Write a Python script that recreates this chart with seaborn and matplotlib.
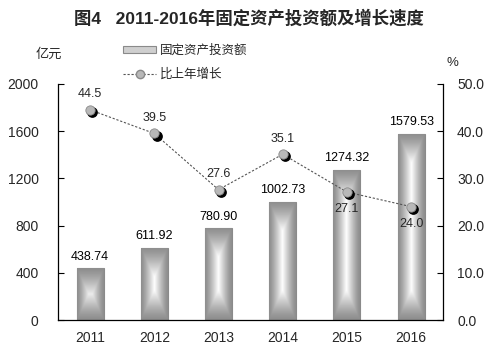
import seaborn as sns
import matplotlib.pyplot as plt
import pandas as pd
import numpy as np
from matplotlib.patches import Patch
from matplotlib.lines import Line2D
from matplotlib.transforms import offset_copy

years = ["2011", "2012", "2013", "2014", "2015", "2016"]
invest = [438.74, 611.92, 780.90, 1002.73, 1274.32, 1579.53]
growth = [44.5, 39.5, 27.6, 35.1, 27.1, 24.0]
growth_below = [False, False, False, False, True, True]

sns.set_theme(style="white")
plt.rcParams['font.family'] = ['Liberation Sans', 'Noto Sans CJK SC']
plt.rcParams['axes.unicode_minus'] = False

df = pd.DataFrame({"year": years, "invest": invest, "growth": growth})
df["pos"] = np.arange(len(years))

fig = plt.figure(figsize=(4.98, 3.54), dpi=100)
ax = fig.add_axes([0.1165, 0.096, 0.7735, 0.667])

sns.barplot(data=df, x="year", y="invest", ax=ax, width=0.42,
            color="#a0a0a0", edgecolor="#8a8a8a", linewidth=0.8, saturation=1)
ax.set_xlim(-0.5, 5.5)
ax.set_ylim(0, 2000)

# gradient fill: white in the middle, grey towards the edges (inset contours)
cmap = sns.blend_palette(["#8e8e8e", "#c8c8c8", "#ffffff"], as_cmap=True)
for p in ax.patches:
    x0, y0 = p.get_x(), p.get_y()
    w, h = p.get_width(), p.get_height()
    (px0, py0), (px1, py1) = ax.transData.transform([(x0, y0), (x0 + w, y0 + h)])
    wp, hp = px1 - px0, py1 - py0
    xs = np.linspace(0, wp, 80)
    ys = np.linspace(0, hp, max(int(hp * 2), 20))
    X, Y = np.meshgrid(xs, ys)
    dx = np.minimum(X, wp - X)
    dy = np.minimum(Y, hp - Y) * 0.45
    d = np.minimum(dx, dy) / (wp / 2)
    grad = np.clip(d, 0, 1) ** 1.3
    im = ax.imshow(grad, cmap=cmap, extent=[x0, x0 + w, y0, y0 + h], origin="lower",
                   aspect="auto", zorder=2, vmin=0, vmax=1, interpolation="bilinear")
    im.set_clip_path(p)
for p, val in zip(ax.patches, invest):
    ax.text(p.get_x() + p.get_width() / 2, val + 45, f"{val:.2f}",
            ha="center", va="bottom", fontsize=9, color="black", zorder=5)

ax.set_xlim(-0.5, 5.5)
ax.set_ylim(0, 2000)
ax.set_yticks(range(0, 2001, 400))
ax.set_xlabel("")
ax.set_ylabel("")
ax.set_xticks(np.arange(-0.5, 6, 1), minor=False)
ax.set_xticklabels([])
ax.set_xticks(np.arange(6), minor=True)
ax.set_xticklabels(years, minor=True)
ax.tick_params(axis="x", which="major", direction="in", length=4, width=0.8, color="black")
ax.tick_params(axis="x", which="minor", length=0, labelsize=10, pad=8)
ax.tick_params(axis="y", direction="in", length=4, width=0.8, color="black",
               left=True, labelsize=10, pad=14)
for s in ["top", "right"]:
    ax.spines[s].set_visible(False)
for s in ["left", "bottom"]:
    ax.spines[s].set_color("black")
    ax.spines[s].set_linewidth(0.9)

ax2 = ax.twinx()
sns.lineplot(data=df, x="pos", y="growth", ax=ax2, color="#555555",
             linestyle=(0, (2, 1.6)), linewidth=0.8, zorder=3)
shadow = offset_copy(ax2.transData, fig=fig, x=1.6, y=-1.6, units="points")
ax2.scatter(df["pos"], df["growth"], s=45, color="black", transform=shadow, zorder=4)
ax2.scatter(df["pos"], df["growth"], s=45, color="#b8b8b8", edgecolor="#8a8a8a",
            linewidth=0.6, zorder=5)
for xi, val, below in zip(df["pos"], growth, growth_below):
    if below:
        ax2.text(xi, val - 2.4, f"{val:.1f}", ha="center", va="top", fontsize=9, zorder=6)
    else:
        ax2.text(xi, val + 2.0, f"{val:.1f}", ha="center", va="bottom", fontsize=9, zorder=6)
ax2.set_ylim(0, 50)
ax2.set_yticks(range(0, 51, 10))
ax2.set_yticklabels([f"{v:.1f}" for v in range(0, 51, 10)])
ax2.set_xlabel("")
ax2.set_ylabel("")
ax2.tick_params(axis="y", direction="in", length=4, width=0.8, color="black",
                right=True, labelsize=10, pad=10)
for s in ["top", "left", "bottom"]:
    ax2.spines[s].set_visible(False)
ax2.spines["right"].set_color("black")
ax2.spines["right"].set_linewidth(0.9)
ax2.set_xlim(-0.5, 5.5)

fig.text(0.5, 0.95, "图4   2011-2016年固定资产投资额及增长速度", ha="center", va="center",
         fontsize=12.5, fontweight="bold", family=['Liberation Sans', 'Noto Sans CJK SC'])
fig.text(0.098, 0.845, "亿元", ha="center", va="center", fontsize=9.5)
fig.text(0.908, 0.822, "%", ha="center", va="center", fontsize=9.5)

handles = [Patch(facecolor="#cfcfcf", edgecolor="#8a8a8a", linewidth=0.8),
           Line2D([], [], color="#555555", linestyle=(0, (2, 1.6)), linewidth=0.8,
                  marker="o", markersize=6, markerfacecolor="#b8b8b8",
                  markeredgecolor="#8a8a8a")]
fig.legend(handles, ["固定资产投资额", "比上年增长"], loc="upper left",
           bbox_to_anchor=(0.225, 0.905), frameon=False, fontsize=9,
           handlelength=2.6, handleheight=0.45, labelspacing=0.9, handletextpad=0.3)

fig.savefig("out.png", dpi=100)
